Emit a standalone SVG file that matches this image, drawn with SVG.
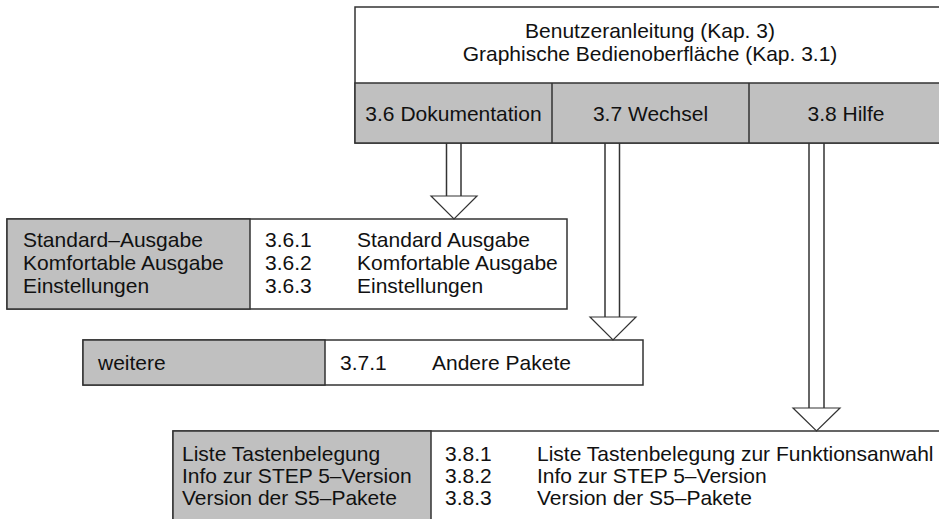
<svg xmlns="http://www.w3.org/2000/svg" width="939" height="519" viewBox="0 0 939 519">
  <style>
    .box { stroke: #333; stroke-width: 1.5; }
    .white { fill: #fff; }
    .grey { fill: #c0c0c0; }
    .sep { stroke: #333; stroke-width: 1.5; fill: none; }
    text { font-family: "Liberation Sans", Arial, sans-serif; font-size: 21px; fill: #111; }
    .mid { text-anchor: middle; }
    .stem { stroke: #333; stroke-width: 1.5; fill: none; }
    .head { fill: #fff; stroke: #333; stroke-width: 1.2; stroke-linejoin: miter; }
  </style>

  <rect width="939" height="519" fill="#fff"/>

  <!-- Chapter header: user guide / graphical interface with three sections -->
  <g id="node-kapitel3">
    <rect class="box white" x="355" y="7" width="590" height="136"/>
    <rect class="box grey" x="355" y="83" width="590" height="60"/>
    <line class="sep" x1="552" y1="83" x2="552" y2="143"/>
    <line class="sep" x1="749" y1="83" x2="749" y2="143"/>
    <text class="mid" x="650" y="38">Benutzeranleitung (Kap. 3)</text>
    <text class="mid" x="650" y="61">Graphische Bedienoberfläche (Kap. 3.1)</text>
    <text class="mid" x="453.5" y="120.5">3.6 Dokumentation</text>
    <text class="mid" x="650.5" y="120.5">3.7 Wechsel</text>
    <text class="mid" x="846" y="120.5">3.8 Hilfe</text>
  </g>

  <!-- 3.6 Dokumentation -->
  <g id="node-dokumentation">
    <rect class="box white" x="7" y="219" width="560" height="90"/>
    <rect class="box grey" x="7" y="219" width="243" height="90"/>
    <text x="23" y="247">Standard–Ausgabe</text>
    <text x="23" y="270">Komfortable Ausgabe</text>
    <text x="23" y="293">Einstellungen</text>
    <text x="265" y="247">3.6.1</text>
    <text x="265" y="270">3.6.2</text>
    <text x="265" y="293">3.6.3</text>
    <text x="357" y="247">Standard Ausgabe</text>
    <text x="357" y="270">Komfortable Ausgabe</text>
    <text x="357" y="293">Einstellungen</text>
  </g>

  <!-- 3.7 Wechsel -->
  <g id="node-wechsel">
    <rect class="box white" x="83" y="340" width="560" height="45"/>
    <rect class="box grey" x="83" y="340" width="242" height="45"/>
    <text x="98" y="370">weitere</text>
    <text x="340" y="370">3.7.1</text>
    <text x="432" y="370">Andere Pakete</text>
  </g>

  <!-- 3.8 Hilfe -->
  <g id="node-hilfe">
    <rect class="box white" x="173" y="431" width="780" height="100"/>
    <rect class="box grey" x="173" y="431" width="258" height="100"/>
    <text x="182" y="461">Liste Tastenbelegung</text>
    <text x="182" y="483">Info zur STEP 5–Version</text>
    <text x="182" y="505">Version der S5–Pakete</text>
    <text x="445" y="461">3.8.1</text>
    <text x="445" y="483">3.8.2</text>
    <text x="445" y="505">3.8.3</text>
    <text x="537" y="461">Liste Tastenbelegung zur Funktionsanwahl</text>
    <text x="537" y="483">Info zur STEP 5–Version</text>
    <text x="537" y="505">Version der S5–Pakete</text>
  </g>

  <!-- Hollow block arrows from each section down to its detail box -->
  <g id="connectors">
    <g id="arrow-3-6">
      <line class="stem" x1="446.5" y1="143" x2="446.5" y2="196"/>
      <line class="stem" x1="461" y1="143" x2="461" y2="196"/>
      <polygon class="head" points="431,196 477,196 454,219"/>
    </g>
    <g id="arrow-3-7">
      <line class="stem" x1="605" y1="143" x2="605" y2="317"/>
      <line class="stem" x1="619.5" y1="143" x2="619.5" y2="317"/>
      <polygon class="head" points="590,317 636,317 613,340"/>
    </g>
    <g id="arrow-3-8">
      <line class="stem" x1="809" y1="143" x2="809" y2="408"/>
      <line class="stem" x1="824" y1="143" x2="824" y2="408"/>
      <polygon class="head" points="793,408 840,408 816.5,431"/>
    </g>
  </g>
</svg>
